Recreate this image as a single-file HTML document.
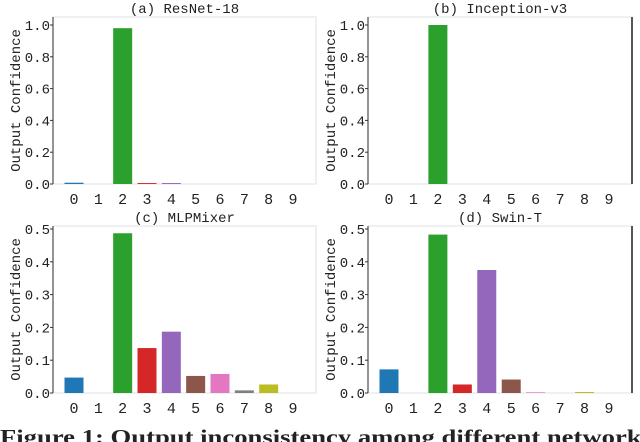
<!DOCTYPE html>
<html><head><meta charset="utf-8"><style>
body{margin:0;background:#fff;width:640px;height:442px;overflow:hidden}
svg{display:block}
text{font-family:"Liberation Mono","WenQuanYi Zen Hei",monospace;fill:#222}
</style></head><body>
<svg id="fig" width="640" height="442" viewBox="0 0 640 442">
<text x="0" y="444" font-weight="bold" font-size="21" textLength="652" lengthAdjust="spacingAndGlyphs" style="font-family:'Liberation Serif',serif">Figure 1: Output inconsistency among different networks</text>
</svg>
<script>
const categories=[0,1,2,3,4,5,6,7,8,9];
const colors=["#1f77b4","#ff7f0e","#2ca02c","#d62728","#9467bd","#8c564b","#e377c2","#7f7f7f","#bcbd22","#17becf"];
const resnetValues=[0.008,0,0.98,0.006,0.006,0,0,0,0,0];
const inceptionValues=[0,0,1.0,0,0,0,0,0,0,0];
const mlpValues=[0.047,0,0.487,0.137,0.187,0.052,0.058,0.008,0.026,0];
const swinValues=[0.072,0,0.483,0.026,0.375,0.041,0.002,0,0.003,0];
const ticksTop=[0,0.2,0.4,0.6,0.8,1.0];
const ticksBottom=[0,0.1,0.2,0.3,0.4,0.5];
const NS="http://www.w3.org/2000/svg";
const svg=document.getElementById('fig');
function mk(tag,attrs,parent){const e=document.createElementNS(NS,tag);for(const k in attrs)e.setAttribute(k,attrs[k]);(parent||svg).appendChild(e);return e;}
const panels=[
 {name:'resnet',title:'(a) ResNet-18',vals:resnetValues,ticks:ticksTop,max:1.0,L:53,R:316,T:17,y0:184,yMax:25,x0:74,x9:293,dark:false,lx:15},
 {name:'inception',title:'(b) Inception-v3',vals:inceptionValues,ticks:ticksTop,max:1.0,L:368,R:632,T:17,y0:184,yMax:25,x0:389,x9:609,dark:true,lx:330},
 {name:'mlpmixer',title:'(c) MLPMixer',vals:mlpValues,ticks:ticksBottom,max:0.5,L:53,R:316,T:226,y0:393,yMax:229,x0:74,x9:293,dark:false,lx:15},
 {name:'swin',title:'(d) Swin-T',vals:swinValues,ticks:ticksBottom,max:0.5,L:368,R:632,T:226,y0:393,yMax:229,x0:389,x9:609,dark:true,lx:330}
];
panels.forEach(p=>{
 const g=mk('g',{});
 
 
 const ys=v=>p.y0-(v/p.max)*(p.y0-p.yMax);
 const xs=i=>p.x0+i*(p.x9-p.x0)/9;
 const fr=mk('rect',{x:p.L,y:p.T,width:p.R-p.L,height:p.y0-p.T,fill:'none',stroke:'#ebebeb','stroke-width':1.5},g);
 
 
 const ya=mk('line',{x1:p.L,y1:p.T,x2:p.L,y2:p.y0,stroke:'#333','stroke-width':1},g);
 
 
 if(p.dark){const rs=mk('line',{x1:p.R,y1:p.T,x2:p.R,y2:p.y0,stroke:'#222','stroke-width':1.5},g);
  
  }
 p.vals.forEach((v,i)=>{
  const h=p.y0-ys(v);
  const b=mk('rect',{x:xs(i)-9.5,y:ys(v),width:19,height:Math.max(h,0),fill:colors[i]},g);
  
  
  const t=mk('text',{x:xs(i),y:p.y0+20,'text-anchor':'middle','font-size':15},g);
  t.textContent=categories[i];
  
  
 });
 p.ticks.forEach(tv=>{
  const y=ys(tv);
  mk('line',{x1:p.L-3,y1:y,x2:p.L,y2:y,stroke:'#333'},g);
  const t=mk('text',{x:p.L-3,y:y+5,'text-anchor':'end','font-size':14},g);
  t.textContent=tv.toFixed(1);
  
  
 });
 const yl=mk('text',{x:0,y:0,'text-anchor':'middle','font-size':14,transform:`translate(${p.lx+5},${(p.T+p.y0)/2}) rotate(-90)`},g);
 yl.textContent='Output Confidence';
 
 
 const tt=mk('text',{x:(p.L+p.R)/2,y:p.T-4,'text-anchor':'middle','font-size':14,'xml:space':'preserve'},g);
 tt.textContent=p.title;
 
 
});
</script>
</body></html>
